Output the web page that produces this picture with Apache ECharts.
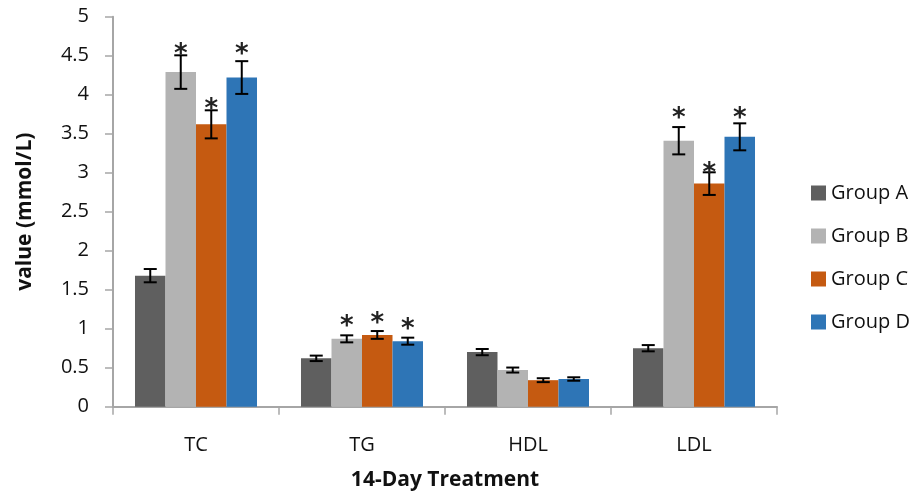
<!DOCTYPE html>
<html>
<head>
<meta charset="utf-8">
<script src="https://cdn.jsdelivr.net/npm/echarts@6/dist/echarts.min.js"></script>
<style>
  html, body { margin: 0; padding: 0; background: #fff; }
  #chart { width: 917px; height: 492px; }
</style>
</head>
<body>
<div id="chart"></div>
<script>
// Lipid panel after 14 days of treatment (mmol/L)
const categories = ['TC', 'TG', 'HDL', 'LDL'];
const groups = ['Group A', 'Group B', 'Group C', 'Group D'];
const colors = ['#5f5f5f', '#b3b3b3', '#c55a11', '#2e75b6'];

const groupA = [1.68, 0.62, 0.70, 0.75];
const groupB = [4.29, 0.87, 0.47, 3.41];
const groupC = [3.62, 0.92, 0.34, 2.86];
const groupD = [4.22, 0.84, 0.355, 3.46];

// standard deviation for each bar
const errA = [0.085, 0.035, 0.04, 0.04];
const errB = [0.215, 0.045, 0.032, 0.175];
const errC = [0.18, 0.05, 0.025, 0.145];
const errD = [0.21, 0.045, 0.022, 0.173];

// height of the significance mark (null = not significant)
const starA = [null, null, null, null];
const starB = [4.60, 1.11, null, 3.77];
const starC = [3.89, 1.15, null, 3.07];
const starD = [4.59, 1.07, null, 3.77];

const values = [groupA, groupB, groupC, groupD];
const errors = [errA, errB, errC, errD];
const stars = [starA, starB, starC, starD];

const FONT = '"Open Sans", Lato, sans-serif';
const FS = 20;
const CAT_GAP = 0.265;

const chart = echarts.init(document.getElementById('chart'), null, { renderer: 'canvas' });

const series = [];
groups.forEach((g, gi) => {
  series.push({
    name: g,
    type: 'bar',
    data: values[gi],
    itemStyle: { color: colors[gi] },
    barGap: '0%',
    barCategoryGap: (CAT_GAP * 100) + '%',
    emphasis: { disabled: true }
  });
});

groups.forEach((g, gi) => {
  series.push({
    type: 'custom',
    silent: true,
    z: 5,
    data: categories.map((c, ci) => [ci, values[gi][ci], errors[gi][ci], stars[gi][ci]]),
    renderItem: function (params, api) {
      const ci = api.value(0);
      const v = api.value(1);
      const e = api.value(2);
      const s = api.value(3);
      const band = api.size([1, 0])[0];
      const bw = band * (1 - CAT_GAP) / groups.length;
      const center = api.coord([ci, v]);
      const x = center[0] + (gi - (groups.length - 1) / 2) * bw;
      const top = api.coord([ci, v + e])[1];
      const bot = api.coord([ci, v - e])[1];
      const cap = 6.5;
      const style = { stroke: '#000', lineWidth: 2 };
      const children = [
        { type: 'line', shape: { x1: x, y1: top, x2: x, y2: bot }, style: style },
        { type: 'line', shape: { x1: x - cap, y1: top, x2: x + cap, y2: top }, style: style },
        { type: 'line', shape: { x1: x - cap, y1: bot, x2: x + cap, y2: bot }, style: style }
      ];
      if (s != null && !isNaN(s)) {
        const sy = api.coord([ci, s])[1];
        children.push({
          type: 'text',
          style: {
            text: '*',
            x: x,
            y: sy + 7,
            align: 'center',
            verticalAlign: 'middle',
            font: 'bold 26px "DejaVu Sans", sans-serif',
            fill: '#222'
          }
        });
      }
      return { type: 'group', children: children };
    }
  });
});

chart.setOption({
  animation: false,
  backgroundColor: '#ffffff',
  grid: { left: 113, right: 140, top: 16.7, bottom: 85.3, containLabel: false, outerBoundsMode: 'none' },
  legend: {
    data: groups,
    orient: 'vertical',
    left: 806,
    top: 178,
    itemWidth: 15,
    itemHeight: 15,
    itemGap: 23,
    icon: 'rect',
    textStyle: { fontFamily: FONT, fontSize: FS, color: '#111' }
  },
  xAxis: {
    type: 'category',
    data: categories,
    name: '14-Day Treatment',
    nameLocation: 'middle',
    nameGap: 63,
    nameTextStyle: { fontFamily: FONT, fontSize: 21, fontWeight: 'bold', color: '#111' },
    axisLine: { lineStyle: { color: '#a6a6a6', width: 2 } },
    axisTick: { show: true, length: 8, lineStyle: { color: '#a6a6a6', width: 1.5 } },
    axisLabel: { fontFamily: FONT, fontSize: FS, color: '#111', margin: 29 }
  },
  yAxis: {
    type: 'value',
    min: 0,
    max: 5,
    interval: 0.5,
    name: 'value (mmol/L)',
    nameLocation: 'middle',
    nameGap: 77,
    nameTextStyle: { fontFamily: FONT, fontSize: 21, fontWeight: 'bold', color: '#111' },
    axisLine: { show: true, lineStyle: { color: '#a6a6a6', width: 2 } },
    axisTick: { show: true, length: 8, lineStyle: { color: '#a6a6a6', width: 1.5 } },
    splitLine: { show: false },
    axisLabel: { fontFamily: FONT, fontSize: FS, color: '#111', margin: 24 }
  },
  series: series
});
</script>
</body>
</html>
